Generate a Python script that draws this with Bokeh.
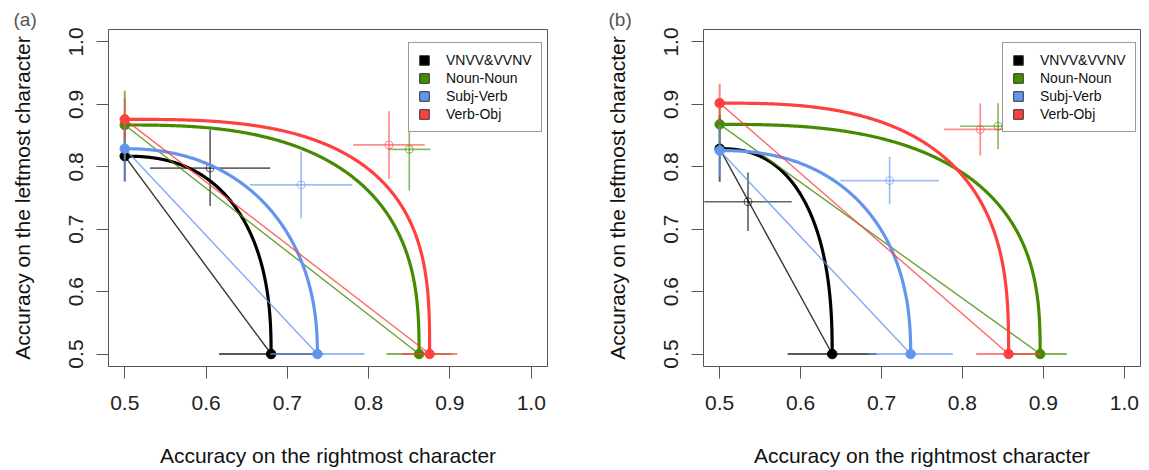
import numpy as np
from bokeh.plotting import figure
from bokeh.layouts import row
from bokeh.models import Range1d, FixedTicker, PrintfTickFormatter, Legend, LegendItem
from bokeh.embed import file_html
from bokeh.resources import INLINE

conditions = ["VNVV&VVNV", "Noun-Noun", "Subj-Verb", "Verb-Obj"]
colors = ["#000000", "#458B00", "#6495ED", "#FF4040"]
chance = 0.5
ticks = [0.5, 0.6, 0.7, 0.8, 0.9, 1.0]

# Panel (a): single-task accuracies (attend left / attend right) with errors
a_left_acc = [0.817, 0.867, 0.829, 0.876]
a_left_err = [0.040, 0.055, 0.053, 0.034]
a_right_acc = [0.680, 0.862, 0.737, 0.875]
a_right_err = [0.064, 0.040, 0.058, 0.034]
# dual-task accuracies (right, left) with errors
a_dual_x = [0.605, 0.850, 0.717, 0.825]
a_dual_xerr = [0.074, 0.026, 0.063, 0.044]
a_dual_y = [0.798, 0.828, 0.771, 0.835]
a_dual_yerr = [0.061, 0.066, 0.054, 0.054]
# curvature of the fitted operating characteristic
a_shape = [2.4, 2.7, 2.2, 3.0]

# Panel (b)
b_left_acc = [0.829, 0.868, 0.826, 0.902]
b_left_err = [0.053, 0.035, 0.041, 0.031]
b_right_acc = [0.639, 0.896, 0.736, 0.857]
b_right_err = [0.055, 0.033, 0.052, 0.040]
b_dual_x = [0.535, 0.844, 0.710, 0.822]
b_dual_xerr = [0.054, 0.047, 0.061, 0.045]
b_dual_y = [0.744, 0.865, 0.778, 0.860]
b_dual_yerr = [0.047, 0.037, 0.038, 0.042]
b_shape = [2.4, 2.7, 2.3, 2.8]

FONT = "Liberation Sans"
BOX = "#555555"
NAN = float("nan")


def make_panel(tag, left_acc, left_err, right_acc, right_err,
               dual_x, dual_xerr, dual_y, dual_yerr, shape,
               frame_w, border_right, legend_x):
    p = figure(title=tag, x_range=Range1d(0.48, 1.02), y_range=Range1d(0.48, 1.02),
               frame_width=frame_w, frame_height=337,
               min_border_left=108, min_border_right=border_right,
               min_border_top=29, min_border_bottom=104,
               output_backend="svg", toolbar_location=None)
    p.grid.visible = False
    p.background_fill_color = "white"
    p.border_fill_color = "white"
    p.outline_line_color = BOX
    p.outline_line_width = 1

    p.title.align = "left"
    p.title.offset = -95
    p.title.standoff = 0
    p.title.text_font = FONT
    p.title.text_font_size = "19px"
    p.title.text_font_style = "normal"
    p.title.text_color = "#555555"

    for ax in (p.xaxis[0], p.yaxis[0]):
        ax.ticker = FixedTicker(ticks=ticks)
        ax.formatter = PrintfTickFormatter(format="%.1f")
        ax.axis_line_color = None
        ax.major_tick_line_color = BOX
        ax.major_tick_out = 12
        ax.major_tick_in = 0
        ax.minor_tick_line_color = None
        ax.major_label_text_font = FONT
        ax.major_label_text_font_size = "21px"
        ax.major_label_text_color = "#222222"
        ax.axis_label_text_font = FONT
        ax.axis_label_text_font_size = "21px"
        ax.axis_label_text_font_style = "normal"
        ax.axis_label_text_color = "#111111"
    p.xaxis.axis_label = "Accuracy on the rightmost character"
    p.yaxis.axis_label = "Accuracy on the leftmost character"
    p.xaxis.major_label_standoff = 17
    p.xaxis.axis_label_standoff = 31
    p.yaxis.major_label_orientation = "vertical"
    p.yaxis.major_label_standoff = 13
    p.yaxis.axis_label_standoff = 33

    t = np.linspace(0, np.pi / 2, 400)
    items = []
    for i, c in enumerate(colors):
        a = right_acc[i] - chance
        b = left_acc[i] - chance
        n = shape[i]
        cx = chance + a * np.cos(t) ** (2.0 / n)
        cy = chance + b * np.sin(t) ** (2.0 / n)
        # fitted operating characteristic
        p.line(cx, cy, line_width=3.2, line_color=c)
        # independence chord between the two single-task points
        p.line([chance, right_acc[i]], [left_acc[i], chance],
               line_width=1.4, line_color=c, line_alpha=0.8)
        # single-task error bars
        p.segment(x0=[chance, right_acc[i] - right_err[i]],
                  y0=[left_acc[i] - left_err[i], chance],
                  x1=[chance, right_acc[i] + right_err[i]],
                  y1=[left_acc[i] + left_err[i], chance],
                  line_width=2, line_color=c, line_alpha=0.65)
        p.scatter([chance, right_acc[i]], [left_acc[i], chance], size=9.5,
                  fill_color=c, line_color=c)
        # dual-task point with error cross
        p.segment(x0=[dual_x[i] - dual_xerr[i], dual_x[i]],
                  y0=[dual_y[i], dual_y[i] - dual_yerr[i]],
                  x1=[dual_x[i] + dual_xerr[i], dual_x[i]],
                  y1=[dual_y[i], dual_y[i] + dual_yerr[i]],
                  line_width=1.7, line_color=c, line_alpha=0.6)
        p.scatter([dual_x[i]], [dual_y[i]], size=8, fill_color=None,
                  line_color=c, line_alpha=0.6, line_width=1)
        # swatch used only by the legend (no visible extent in the plot)
        sw = p.quad(left=[NAN], right=[NAN], top=[NAN], bottom=[NAN],
                    fill_color=c, line_color="#333333", line_width=1)
        items.append(LegendItem(label=conditions[i], renderers=[sw], index=0))

    legend = Legend(items=items, location=(legend_x, 234), margin=0,
                    padding=9, spacing=2, glyph_width=12, glyph_height=12,
                    label_height=16, label_standoff=16,
                    label_text_font=FONT, label_text_font_size="14px",
                    label_text_color="#111111",
                    border_line_color="#333333", border_line_width=1,
                    background_fill_color="white", background_fill_alpha=1.0)
    p.add_layout(legend)
    return p


pa = make_panel("(a)", a_left_acc, a_left_err, a_right_acc, a_right_err,
                a_dual_x, a_dual_xerr, a_dual_y, a_dual_yerr, a_shape,
                439, 48, 300)
pb = make_panel("(b)", b_left_acc, b_left_err, b_right_acc, b_right_err,
                b_dual_x, b_dual_xerr, b_dual_y, b_dual_yerr, b_shape,
                437, 9, 299)

layout = row(pa, pb)
open("out.html", "w").write(file_html(layout, INLINE))
